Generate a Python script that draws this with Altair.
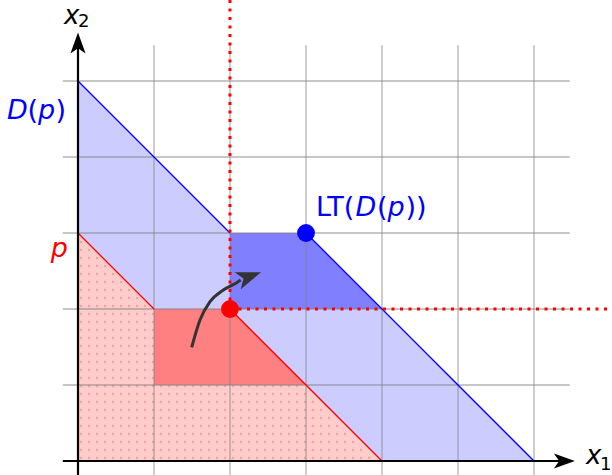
import altair as alt
import pandas as pd
import numpy as np

# ---- data (one grid unit per step) -------------------------------------
grid_x = [0, 1, 2, 3, 4, 5, 6]
grid_y = [0, 1, 2, 3, 4, 5]

# D(p): region under the staircase boundary
dp_x = [0, 2, 3, 6]
dp_y = [5, 3, 3, 0]

# p: region under its staircase boundary
p_x = [0, 1, 2, 4]
p_y = [3, 2, 2, 0]

# shifted copy of p (medium red) with base y = 1
sp_x = [1, 2, 3]
sp_y = [2, 2, 1]
sp_base = 1

# LT(D(p)) region (dark blue) with base y = 2
lt_x = [2, 3, 4]
lt_y = [3, 3, 2]
lt_base = 2

# boundary segments
blue_seg = [(0, 0, 5), (0, 2, 3), (1, 3, 3), (1, 6, 0)]
red_seg = [(0, 0, 3), (0, 1, 2), (1, 2, 2), (1, 4, 0)]

# marked points
p_point = (2, 2)
lt_point = (3, 3)

# curved arrow path and head
arrow_x = [1.496, 1.605, 1.737, 1.912, 2.088, 2.14]
arrow_y = [1.496, 1.855, 2.096, 2.250, 2.346, 2.38]
arrow_head = (2.255, 2.428)

BLUE = "#0000ff"
RED = "#ff0000"
FONT = "DejaVu Sans"

xs = alt.Scale(domain=[-78 / 76, 534 / 76], nice=False, zero=False)
ys = alt.Scale(domain=[-14 / 76, 461 / 76], nice=False, zero=False)


def X(field="x", **kw):
    return alt.X(field, type="quantitative", scale=xs, axis=None, **kw)


def Y(field="y", **kw):
    return alt.Y(field, type="quantitative", scale=ys, axis=None, **kw)


def area(xv, yv, base, color):
    df = pd.DataFrame({"x": xv, "y": yv, "b": [base] * len(xv)})
    return alt.Chart(df).mark_area(color=color, opacity=1, interpolate="linear").encode(
        x=X(), y=Y(), y2="b:Q"
    )


light_blue = area(dp_x, dp_y, 0, "#ccccff")
light_red = area(p_x, p_y, 0, "#ffcccc")
mid_red = area(sp_x, sp_y, sp_base, "#ff8080")
dark_blue = area(lt_x, lt_y, lt_base, "#8080ff")


# dot texture for the p region
def inside_p(x, y):
    top = np.interp(x, p_x, p_y)
    return (x > 0) & (y > 0) & (y < top - 0.03)


gx, gy = np.meshgrid(np.arange(0.04, 4, 8 / 76), np.arange(0.04, 3, 8 / 76))
gx, gy = gx.ravel(), gy.ravel()
mask = inside_p(gx, gy)
dots_df = pd.DataFrame({"x": gx[mask], "y": gy[mask]})
dots = alt.Chart(dots_df).mark_point(
    shape="circle", filled=True, size=7, color="#eba5a5", opacity=1
).encode(x=X(), y=Y())

# grid
vgrid = alt.Chart(pd.DataFrame({"x": grid_x[1:], "y": -0.2, "y2": 5.47})).mark_rule(
    color="#808080", strokeWidth=1.3, opacity=0.6
).encode(x=X(), y=Y(), y2="y2:Q")
hgrid = alt.Chart(pd.DataFrame({"y": grid_y, "x": -0.2, "x2": 6.47})).mark_rule(
    color="#808080", strokeWidth=1.3, opacity=0.6
).encode(y=Y(), x=X(), x2="x2:Q")


def segs(rows, color):
    df = pd.DataFrame(rows, columns=["g", "x", "y"])
    return alt.Chart(df).mark_line(color=color, strokeWidth=1.3).encode(
        x=X(), y=Y(), detail="g:N", order=alt.Order("x:Q")
    )


blue_lines = segs(blue_seg, BLUE)
red_lines = segs(red_seg, RED)

# dotted guide lines from p
dot_v = alt.Chart(pd.DataFrame({"x": [p_point[0]], "y": [p_point[1]], "y2": [461 / 76]})).mark_rule(
    color=RED, strokeWidth=3, strokeDash=[3, 5.5], strokeCap="butt"
).encode(x=X(), y=Y(), y2="y2:Q")
dot_h = alt.Chart(pd.DataFrame({"y": [p_point[1]], "x": [p_point[0]], "x2": [534 / 76]})).mark_rule(
    color=RED, strokeWidth=3, strokeDash=[3, 5.5], strokeCap="butt"
).encode(x=X(), y=Y(), x2="x2:Q")

# coordinate axes
x_axis = alt.Chart(pd.DataFrame({"y": [0], "x": [-0.2], "x2": [6.45]})).mark_rule(
    color="black", strokeWidth=2.2
).encode(y=Y(), x=X(), x2="x2:Q")
y_axis = alt.Chart(pd.DataFrame({"x": [0], "y": [-0.2], "y2": [5.45]})).mark_rule(
    color="black", strokeWidth=2.2
).encode(x=X(), y=Y(), y2="y2:Q")

HEAD = "M1,0 L-1,-0.72 L-0.5,0 L-1,0.72 Z"
heads_df = pd.DataFrame({"x": [6.40, 0], "y": [0, 5.50], "a": [0, 270]})
axis_heads = alt.Chart(heads_df).mark_point(
    shape=HEAD, filled=True, size=440, color="black", opacity=1, strokeWidth=0
).encode(x=X(), y=Y(), angle=alt.Angle("a:Q", scale=None))

# curved arrow
arc = alt.Chart(pd.DataFrame({"x": arrow_x, "y": arrow_y})).mark_line(
    color="#333333", strokeWidth=3, interpolate="monotone"
).encode(x=X(), y=Y(), order=alt.Order("x:Q"))
arc_head = alt.Chart(pd.DataFrame({"x": [arrow_head[0]], "y": [arrow_head[1]]})).mark_point(
    shape=HEAD, filled=True, size=620, color="#333333", opacity=1, angle=340, strokeWidth=0
).encode(x=X(), y=Y())

# points
pts = alt.Chart(pd.DataFrame({
    "x": [p_point[0], lt_point[0]], "y": [p_point[1], lt_point[1]], "c": [RED, BLUE]
})).mark_point(shape="circle", filled=True, size=320, opacity=1).encode(
    x=X(), y=Y(), color=alt.Color("c:N", scale=None)
)


# labels built from styled pieces
def label(x, y, pieces, color, size, align="left"):
    layers = []
    for dx, txt, style in pieces:
        df = pd.DataFrame([{"x": x, "y": y, "t": txt}])
        layers.append(
            alt.Chart(df).mark_text(
                align=align, baseline="alphabetic", font=FONT, fontSize=size,
                fontStyle=style, color=color, dx=dx
            ).encode(x=X(), y=Y(), text="t:N")
        )
    return layers


texts = []
texts += label((316 - 78) / 76, (461 - 216) / 76,
               [(0, "LT(", "normal"), (39.5, "D", "italic"), (61, "(", "normal"),
                (71.5, "p", "italic"), (89.5, "))", "normal")], BLUE, 27)
texts += label((7 - 78) / 76, 4.5,
               [(0, "D", "italic"), (20.5, "(", "normal"), (31, "p", "italic"),
                (48.4, ")", "normal")], BLUE, 27)
texts += label((68 - 78) / 76, (461 - 257) / 76, [(0, "p", "italic")], RED, 27, align="right")
texts += label((586 - 78) / 76, (461 - 464) / 76, [(0, "x", "italic")], "black", 26)
texts += label((600 - 78) / 76, (461 - 470) / 76, [(0, "1", "normal")], "black", 18)
texts += label((64 - 78) / 76, (461 - 24) / 76, [(0, "x", "italic")], "black", 26)
texts += label((78 - 78) / 76, (461 - 27) / 76, [(0, "2", "normal")], "black", 18)

chart = alt.layer(
    light_blue, light_red, dots, mid_red, dark_blue,
    vgrid, hgrid, blue_lines, red_lines, dot_v, dot_h,
    x_axis, y_axis, axis_heads, arc, arc_head, pts, *texts
).properties(
    width=612, height=475, padding=0, autosize=alt.AutoSizeParams(type="none"),
    background="white"
).configure_view(stroke=None)

chart.save("out.html", embed_options={"renderer": "svg", "actions": False})
